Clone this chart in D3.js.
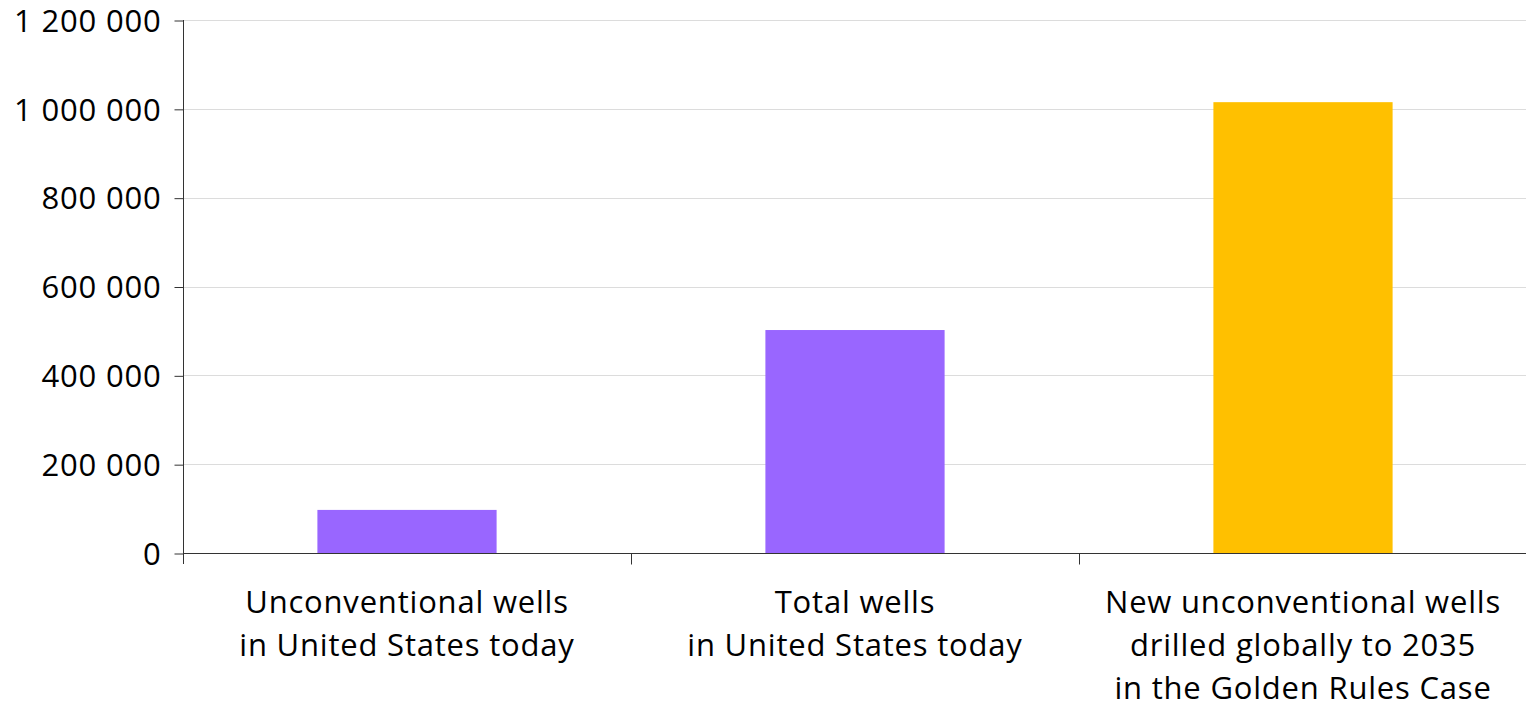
<!DOCTYPE html>
<html>
<head>
<meta charset="utf-8">
<script src="https://cdn.jsdelivr.net/npm/d3@7"></script>
<style>
  html, body { margin: 0; padding: 0; background: #fff; }
  svg { display: block; }
  text { font-family: "Open Sans", Lato, sans-serif; fill: #000; }
</style>
</head>
<body>
<svg id="chart" width="1526" height="707"></svg>
<script>
// Well counts
const categories = [
  ["Unconventional wells", "in United States today"],
  ["Total wells", "in United States today"],
  ["New unconventional wells", "drilled globally to 2035", "in the Golden Rules Case"]
];
const values = [97000, 502000, 1015000];
const barColors = ["#9966ff", "#9966ff", "#ffc000"];
const yTicks = [0, 200000, 400000, 600000, 800000, 1000000, 1200000];

const svg = d3.select("#chart");
const margin = { left: 183, right: -1, top: 20, bottom: 154 };
const W = 1526, H = 707;
const FONT = "'Open Sans', Lato, sans-serif";
const FS = 31;
const LS = "0.8px";

const x = d3.scaleBand()
  .domain(d3.range(categories.length))
  .range([margin.left, W - margin.right])
  .padding(0);

const y = d3.scaleLinear()
  .domain([0, 1200000])
  .range([H - margin.bottom, margin.top]);

const fmt = v => d3.format(",")(v).replace(/,/g, " ");

// Gridlines
svg.append("g")
  .selectAll("line")
  .data(yTicks.filter(t => t > 0))
  .join("line")
  .attr("x1", margin.left)
  .attr("x2", W)
  .attr("y1", d => Math.round(y(d)) + 0.5)
  .attr("y2", d => Math.round(y(d)) + 0.5)
  .attr("stroke", "#dcdcdc")
  .attr("stroke-width", 1);

// Bars
const barW = x.bandwidth() * 0.4;
svg.append("g")
  .selectAll("rect")
  .data(values)
  .join("rect")
  .attr("x", (d, i) => x(i) + (x.bandwidth() - barW) / 2)
  .attr("width", barW)
  .attr("y", d => y(d))
  .attr("height", d => y(0) - y(d))
  .attr("fill", (d, i) => barColors[i]);

// Y axis
const yAxis = d3.axisLeft(y)
  .tickValues(yTicks)
  .tickFormat(fmt)
  .tickSize(9)
  .tickPadding(13);
const gy = svg.append("g")
  .attr("transform", `translate(${margin.left + 0.5},0)`)
  .call(yAxis);
gy.select(".domain").remove();
gy.append("line")
  .attr("x1", 0).attr("x2", 0)
  .attr("y1", y(1200000)).attr("y2", y(0) + 11)
  .attr("stroke", "#333");
gy.selectAll(".tick line").attr("stroke", "#333").attr("transform", "translate(0,0.5)");
gy.selectAll(".tick text")
  .attr("font-size", FS)
  .attr("dy", "0.36em")
  .style("font-family", FONT)
  .style("letter-spacing", LS)
  .attr("fill", "#000");

// X axis baseline and category ticks
const baseY = Math.round(y(0)) + 0.5;
svg.append("line")
  .attr("x1", margin.left).attr("x2", W)
  .attr("y1", baseY).attr("y2", baseY)
  .attr("stroke", "#333");
svg.append("g")
  .selectAll("line")
  .data(d3.range(1, categories.length))
  .join("line")
  .attr("x1", i => Math.round(x(i)) + 0.5)
  .attr("x2", i => Math.round(x(i)) + 0.5)
  .attr("y1", baseY).attr("y2", baseY + 11)
  .attr("stroke", "#333");

// Category labels
const lab = svg.append("g")
  .selectAll("text")
  .data(categories)
  .join("text")
  .attr("text-anchor", "middle")
  .attr("font-size", FS)
  .style("letter-spacing", LS)
  .attr("x", (d, i) => x(i) + x.bandwidth() / 2);
lab.selectAll("tspan")
  .data(d => d)
  .join("tspan")
  .attr("x", function () { return d3.select(this.parentNode).attr("x"); })
  .attr("y", (d, j) => 613 + j * 43)
  .text(d => d);
</script>
</body>
</html>
